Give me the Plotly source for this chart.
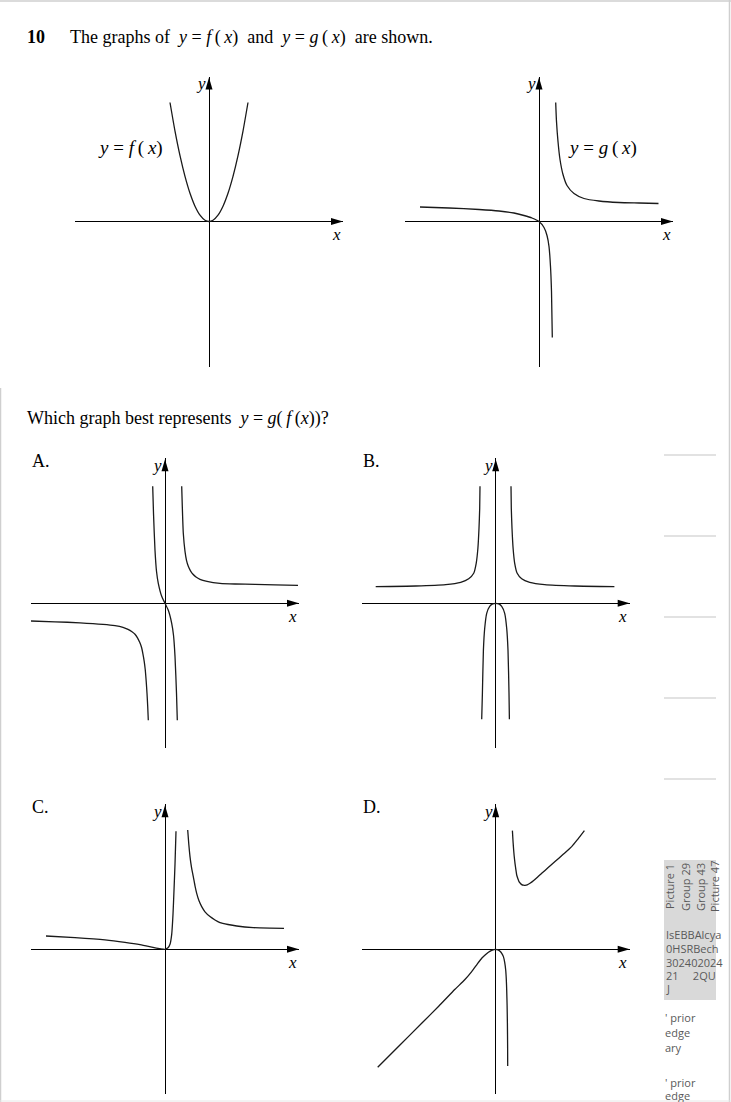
import plotly.graph_objects as go

W, H = 731, 1102

# ---------------- data (in pixel-like units relative to each origin)
f_x = [-39, -34, -29, -24, -19, -14, -9, -4, 0, 4, 9, 14, 19, 24, 29, 34, 39]
f_y = [119, 90.4, 65.8, 45.1, 28.2, 15.3, 6.3, 1.25, 0, 1.25, 6.3, 15.3, 28.2, 45.1, 65.8, 90.4, 119]

g_left_x = [-119, -90, -60, -40, -25, -15, -7, 0, 5, 8, 10, 11.5, 12.5, 13.3]
g_left_y = [14.5, 13.5, 12, 10.5, 8.5, 6, 3.5, 0, -6, -14, -25, -45, -70, -116]
g_right_x = [16.7, 17.5, 19, 21, 24, 28, 35, 45, 60, 80, 100, 119.5]
g_right_y = [119, 100, 80, 62, 47, 36, 28, 23, 20.5, 19, 18.5, 18]

a_mid_x = [-12.3, -11.5, -10, -8.5, -6.7, -3.3, 0, 3.3, 6.7, 8.5, 10, 11.5, 12.3]
a_mid_y = [117, 90, 53, 32, 20, 7, 0, -7, -20, -32, -53, -90, -117]
a_right_x = [16.7, 17.2, 18.3, 20, 21.5, 23.3, 25.5, 28, 31, 35, 42, 55, 70, 90, 110, 133]
a_right_y = [117, 100, 70, 52, 43, 37, 32.5, 29, 26.3, 24, 22, 20, 19.3, 19, 18.5, 18]
a_left_x = [-134, -110, -85, -62, -50, -42, -37, -33, -30, -27.5, -25.3, -23.5, -22, -20.8, -19.8,
            -18.8, -18, -17.3, -16.7]
a_left_y = [-17.7, -18.5, -19.5, -21, -22.3, -24, -26, -28.5, -31, -34.5, -39, -44, -51, -58, -66,
            -78, -90, -103, -117]

b_left_x = [-120, -80, -50, -35, -27, -22, -19.5, -17.8, -16.7, -16, -15.7]
b_left_y = [16.7, 17.3, 18.7, 21, 24.5, 30, 40, 55, 75, 95, 117]
b_right_x = [15.3, 15.6, 16.3, 17.4, 19, 21.5, 26, 34, 49, 79, 118.7]
b_right_y = [117, 95, 75, 55, 40, 30, 24.5, 21, 18.7, 17.3, 16.7]
b_mid_x = [-14, -13.3, -12.3, -11, -9, -6, -3, 0, 3, 6, 9, 11, 12.3, 13.3, 13.7]
b_mid_y = [-116, -90, -47, -25, -10, -3, -0.6, 0, -0.6, -3, -10, -25, -47, -90, -116]

c_left_x = [-119, -90, -60, -40, -25, -12, -5, 0, 3, 5, 6.7, 8, 9, 10, 11]
c_left_y = [13.3, 11.7, 9.5, 7, 4.7, 2, 0.6, 0, 1.5, 5, 15, 35, 59, 85, 118]
c_right_x = [22.7, 23.8, 25, 26.5, 28.3, 30, 31.7, 34, 36.7, 40, 45, 50, 55, 63, 71.7, 88.3, 105, 119]
c_right_y = [119.3, 105, 92.7, 82, 72.7, 63.5, 56, 48.5, 42.7, 37.5, 32.7, 29.3, 26.7, 24.8, 23.3,
             21.7, 21.2, 21]

d_left_x = [-118, -96, -74, -57, -40.7, -31, -24, -18.5, -14, -10.3, -7.3, -4, 0, 2.3, 4.3, 6.2, 7.7,
            9, 10, 10.6, 11, 11.4, 11.7, 11.9, 12]
d_left_y = [-118, -96, -74, -57, -40, -30.5, -22.3, -14.8, -9, -5.5, -3, -1, 0, -0.6, -2, -4.3, -7.3,
            -13, -20.7, -30, -40.7, -56, -74, -95, -116.7]
d_right_x = [16.7, 17.2, 17.7, 18.4, 19.3, 20.2, 21, 22.2, 23.3, 24.6, 26, 27.6, 29.3, 31.5, 34.3,
             38, 42, 46, 52.5, 59.3, 67.5, 76, 82, 88.7]
d_right_y = [118.7, 110, 102.7, 94, 86, 79.5, 74.3, 70.5, 67.7, 66, 64.7, 64.1, 64, 64.4, 66,
             68.8, 72.3, 76, 81.7, 87.7, 95, 102.7, 110, 118.7]

panel_names = ["f", "g", "A", "B", "C", "D"]
panel_letters = ["", "", "A.", "B.", "C.", "D."]
panel_origins = [(209, 221.5), (539, 221.5), (165, 603.3), (495.7, 603.3), (165, 949.3), (495.7, 949.3)]
panel_curves = [
    [(f_x, f_y)],
    [(g_left_x, g_left_y), (g_right_x, g_right_y)],
    [(a_left_x, a_left_y), (a_mid_x, a_mid_y), (a_right_x, a_right_y)],
    [(b_left_x, b_left_y), (b_mid_x, b_mid_y), (b_right_x, b_right_y)],
    [(c_left_x, c_left_y), (c_right_x, c_right_y)],
    [(d_left_x, d_left_y), (d_right_x, d_right_y)],
]

XR, YR = 134, 145
SERIF = "Liberation Serif"
SANS = "Open Sans"
TH = "\u2009"   # thin space
EN = "\u2002"   # en space


def px(x):
    return x / W


def py(y):
    return 1 - y / H


def fx(name):
    return f"<i>y</i> = <i>{name}</i>{TH}({TH}<i>x</i>)"


fig = go.Figure()
layout = dict(
    width=W, height=H, autosize=False,
    margin=dict(l=0, r=0, t=0, b=0, pad=0),
    paper_bgcolor="white", plot_bgcolor="rgba(0,0,0,0)",
    showlegend=False,
)
shapes = []
annotations = []

for i, (name, (ox, oy), curves) in enumerate(zip(panel_names, panel_origins, panel_curves), start=1):
    sfx = "" if i == 1 else str(i)
    xa, ya = "x" + sfx, "y" + sfx
    layout["xaxis" + sfx] = dict(
        domain=[(ox - XR) / W, (ox + XR) / W], range=[-XR, XR], anchor=ya,
        showgrid=False, zeroline=True, zerolinecolor="black", zerolinewidth=1,
        showticklabels=False, ticks="", showline=False, fixedrange=True)
    layout["yaxis" + sfx] = dict(
        domain=[1 - (oy + YR) / H, 1 - (oy - YR) / H], range=[-YR, YR], anchor=xa,
        showgrid=False, zeroline=True, zerolinecolor="black", zerolinewidth=1,
        showticklabels=False, ticks="", showline=False, fixedrange=True)
    for cx, cy in curves:
        fig.add_trace(go.Scatter(x=cx, y=cy, mode="lines", xaxis=xa, yaxis=ya,
                                 line=dict(color="#1a1a1a", width=1.3, shape="spline", smoothing=0.6),
                                 hoverinfo="skip"))
    # arrowheads
    shapes.append(dict(type="path", xref=xa, yref=ya, xsizemode="pixel", ysizemode="pixel",
                       xanchor=XR, yanchor=0, path="M0,0 L-12,3.5 L-12,-3.5 Z",
                       fillcolor="black", line=dict(width=0)))
    shapes.append(dict(type="path", xref=xa, yref=ya, xsizemode="pixel", ysizemode="pixel",
                       xanchor=0, yanchor=YR - 1, path="M0,0 L-3.5,-12 L3.5,-12 Z",
                       fillcolor="black", line=dict(width=0)))
    annotations.append(dict(xref=xa, yref=ya, x=-8, y=138, text="<i>y</i>", showarrow=False,
                            xanchor="center", yanchor="middle",
                            font=dict(family=SERIF, size=17, color="black")))
    annotations.append(dict(xref=xa, yref=ya, x=127, y=-13, text="<i>x</i>", showarrow=False,
                            xanchor="center", yanchor="middle",
                            font=dict(family=SERIF, size=17, color="black")))
    if panel_letters[i - 1]:
        annotations.append(dict(xref="paper", yref="paper", x=px(ox - 135), y=py(oy - 142),
                                xanchor="left", yanchor="middle", text=panel_letters[i - 1],
                                showarrow=False, font=dict(family=SERIF, size=18, color="black")))

# curve labels
annotations.append(dict(xref="x", yref="y", x=-79, y=74, text=fx("f"), xanchor="center", yanchor="middle",
                        showarrow=False, font=dict(family=SERIF, size=19, color="black")))
annotations.append(dict(xref="x2", yref="y2", x=63, y=74, text=fx("g"), xanchor="center", yanchor="middle",
                        showarrow=False, font=dict(family=SERIF, size=19, color="black")))

# question text
annotations.append(dict(xref="paper", yref="paper", x=px(25), y=py(37), xanchor="left", yanchor="middle",
                        text="<b>10</b>", showarrow=False, font=dict(family=SERIF, size=18, color="black")))
annotations.append(dict(xref="paper", yref="paper", x=px(68), y=py(37), xanchor="left", yanchor="middle",
                        text=f"The graphs of{EN}{fx('f')}{EN}and{EN}{fx('g')}{EN}are shown.",
                        showarrow=False, font=dict(family=SERIF, size=18, color="black")))
annotations.append(dict(xref="paper", yref="paper", x=px(25), y=py(418), xanchor="left", yanchor="middle",
                        text=f"Which graph best represents{EN}<i>y</i> = <i>g</i>({TH}<i>f</i>{TH}(<i>x</i>))?",
                        showarrow=False, font=dict(family=SERIF, size=18, color="black")))

# page borders
border = "#cfcfcf"
shapes += [
    dict(type="line", xref="paper", yref="paper", x0=0, x1=1, y0=py(1), y1=py(1), line=dict(color=border, width=1.5)),
    dict(type="line", xref="paper", yref="paper", x0=px(729.5), x1=px(729.5), y0=0, y1=1, line=dict(color=border, width=1.5)),
    dict(type="line", xref="paper", yref="paper", x0=px(0.5), x1=px(0.5), y0=0, y1=py(388), line=dict(color=border, width=1.5)),
    dict(type="line", xref="paper", yref="paper", x0=0, x1=1, y0=py(1101), y1=py(1101), line=dict(color="#e6e6e6", width=1)),
]
# side panel artefacts
for yy in [455, 536, 617, 698, 779]:
    shapes.append(dict(type="line", xref="paper", yref="paper", x0=px(664), x1=px(716), y0=py(yy), y1=py(yy),
                       line=dict(color="#d9d9d9", width=1.5)))
shapes.append(dict(type="rect", xref="paper", yref="paper", x0=px(664), x1=px(716), y0=py(1000), y1=py(860),
                   fillcolor="#d9d9d9", line=dict(width=0), layer="below"))
side_font = dict(family=SANS, size=11, color="#595959")
for xx, t in [(669, "Picture 1"), (685, "Group 29"), (700, "Group 43"), (714, "Picture 47")]:
    annotations.append(dict(xref="paper", yref="paper", x=px(xx), y=py(887), text=t, textangle=-90,
                            xanchor="center", yanchor="middle", showarrow=False, font=side_font))
for yy, t in [(934, "IsEBBAlcya"), (948, "0HSRBech"), (962, "302402024"),
              (975, "21     2QU"), (988, "J")]:
    annotations.append(dict(xref="paper", yref="paper", x=px(664), y=py(yy), xanchor="left", yanchor="middle",
                            text=t, showarrow=False, font=side_font))
for yy, t in [(1017, "' prior"), (1032, "edge"), (1047, "ary"), (1082, "' prior"), (1095, "edge")]:
    annotations.append(dict(xref="paper", yref="paper", x=px(663), y=py(yy), xanchor="left", yanchor="middle",
                            text=t, showarrow=False, font=side_font))

layout["shapes"] = shapes
layout["annotations"] = annotations
fig.update_layout(**layout)

fig.write_html("out.html", config={"displayModeBar": False, "staticPlot": True},
               post_script="document.body.style.margin='0';document.body.style.overflow='hidden';")
